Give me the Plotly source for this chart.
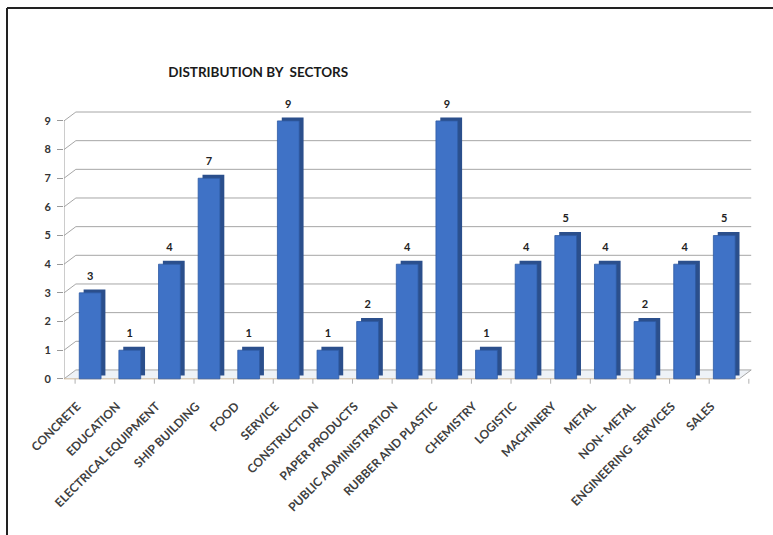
import plotly.graph_objects as go

# Sector counts
sectors = [
    "CONCRETE", "EDUCATION", "ELECTRICAL EQUIPMENT", "SHIP BUILDING", "FOOD",
    "SERVICE", "CONSTRUCTION", "PAPER PRODUCTS", "PUBLIC ADMINISTRATION",
    "RUBBER AND PLASTIC", "CHEMISTRY", "LOGISTIC", "MACHINERY", "METAL",
    "NON- METAL", "ENGINEERING  SERVICES", "SALES",
]
counts = [3, 1, 4, 7, 1, 9, 1, 2, 4, 9, 1, 4, 5, 4, 2, 4, 5]
y_ticks = list(range(0, 10))

# pseudo-3D geometry (data units)
X_FRONT_LEFT = -0.66
X_FRONT_RIGHT = len(sectors) - 0.62
DEPTH_X, DEPTH_Y = 0.30, 0.31
BAR_W = 0.55
BAR_DX, BAR_DY = 0.11, 0.12

xs = list(range(len(sectors)))

GRID = "#a6a6a6"
shapes = []

# floor
shapes.append(dict(
    type="path", xref="x", yref="y", layer="below",
    path=(f"M {X_FRONT_LEFT},0 L {X_FRONT_RIGHT},0 "
          f"L {X_FRONT_RIGHT + DEPTH_X},{DEPTH_Y} L {X_FRONT_LEFT + DEPTH_X},{DEPTH_Y} Z"),
    fillcolor="#eef2f7", line=dict(width=0),
))

# back-wall gridlines with side-wall connectors
for v in y_ticks:
    shapes.append(dict(type="line", xref="x", yref="y", layer="below",
                       x0=X_FRONT_LEFT, y0=v, x1=X_FRONT_LEFT + DEPTH_X, y1=v + DEPTH_Y,
                       line=dict(color=GRID, width=1)))
    shapes.append(dict(type="line", xref="x", yref="y", layer="below",
                       x0=X_FRONT_LEFT + DEPTH_X, y0=v + DEPTH_Y,
                       x1=X_FRONT_RIGHT + DEPTH_X, y1=v + DEPTH_Y,
                       line=dict(color=GRID, width=1)))

# front vertical axis
shapes.append(dict(type="line", xref="x", yref="y", layer="below",
                   x0=X_FRONT_LEFT, y0=0, x1=X_FRONT_LEFT, y1=y_ticks[-1],
                   line=dict(color="#9a9a9a", width=1)))
# floor front edge and right edge
shapes.append(dict(type="line", xref="x", yref="y", layer="below",
                   x0=X_FRONT_LEFT, y0=0, x1=X_FRONT_RIGHT, y1=0,
                   line=dict(color="#cdb89c", width=1)))
shapes.append(dict(type="line", xref="x", yref="y", layer="below",
                   x0=X_FRONT_RIGHT, y0=0, x1=X_FRONT_RIGHT + DEPTH_X, y1=DEPTH_Y,
                   line=dict(color=GRID, width=1)))
# category separators under the floor
for i in range(len(sectors) + 1):
    xb = i - 0.5 + 0.12
    shapes.append(dict(type="line", xref="x", yref="y", layer="below",
                       x0=xb, y0=0, x1=xb, y1=-0.17,
                       line=dict(color="#b0b0b0", width=1)))

fig = go.Figure()

# bar side / top faces
fig.add_trace(go.Bar(
    x=xs, y=counts, base=[BAR_DY] * len(counts), width=BAR_W,
    offset=-BAR_W / 2 + BAR_DX,
    marker=dict(color="#2b4f8c", line=dict(width=0)),
    hoverinfo="skip", showlegend=False, cliponaxis=False,
))
# bar front faces
fig.add_trace(go.Bar(
    x=xs, y=counts, width=BAR_W, offset=-BAR_W / 2,
    marker=dict(color="#3f72c6", line=dict(color="#2f5aa3", width=0.8)),
    showlegend=False, cliponaxis=False,
))
# value labels above the bars
fig.add_trace(go.Scatter(
    x=xs, y=counts, mode="markers+text",
    marker=dict(size=15, opacity=0),
    text=[f"<b>{c}</b>" for c in counts], textposition="top center",
    textfont=dict(family="Lato", size=11, color="#222222"),
    hoverinfo="skip", showlegend=False, cliponaxis=False,
))

fig.update_layout(
    width=773, height=535,
    margin=dict(l=64, r=21, t=108, b=149),
    paper_bgcolor="white", plot_bgcolor="rgba(0,0,0,0)",
    barmode="overlay",
    shapes=shapes,
    title=dict(text="<b>DISTRIBUTION BY  SECTORS</b>", x=0.334, xanchor="center",
               y=0.865, yanchor="middle",
               font=dict(family="Lato", size=13.5, color="#1a1a1a")),
    font=dict(family="Lato"),
)

fig.update_xaxes(
    range=[X_FRONT_LEFT, X_FRONT_RIGHT + DEPTH_X + 0.02],
    tickvals=xs, ticktext=[f"<b>{s}</b>" for s in sectors], tickangle=-45,
    tickfont=dict(family="Lato", size=12, color="#404040"),
    showgrid=False, zeroline=False, showline=False, ticks="",
    ticklabelshift=-13, ticklabelstandoff=10,
)
fig.update_yaxes(
    range=[-0.25, 9.45], tickvals=y_ticks,
    ticktext=[f"<b>{v}</b>" for v in y_ticks],
    tickfont=dict(family="Lato", size=11, color="#333333"),
    showgrid=False, zeroline=False, showline=False,
    ticks="outside", ticklen=6, tickcolor="#9a9a9a", ticklabelstandoff=4,
)

# page frame: left and top borders
fig.add_shape(type="line", xref="paper", yref="paper",
              x0=-57 / 688, y0=1 + 100 / 278, x1=1 + 21 / 688, y1=1 + 100 / 278,
              line=dict(color="#222222", width=2))
fig.add_shape(type="line", xref="paper", yref="paper",
              x0=-57 / 688, y0=1 + 100 / 278, x1=-57 / 688, y1=-149 / 278,
              line=dict(color="#222222", width=2))

fig.write_html("out.html")
